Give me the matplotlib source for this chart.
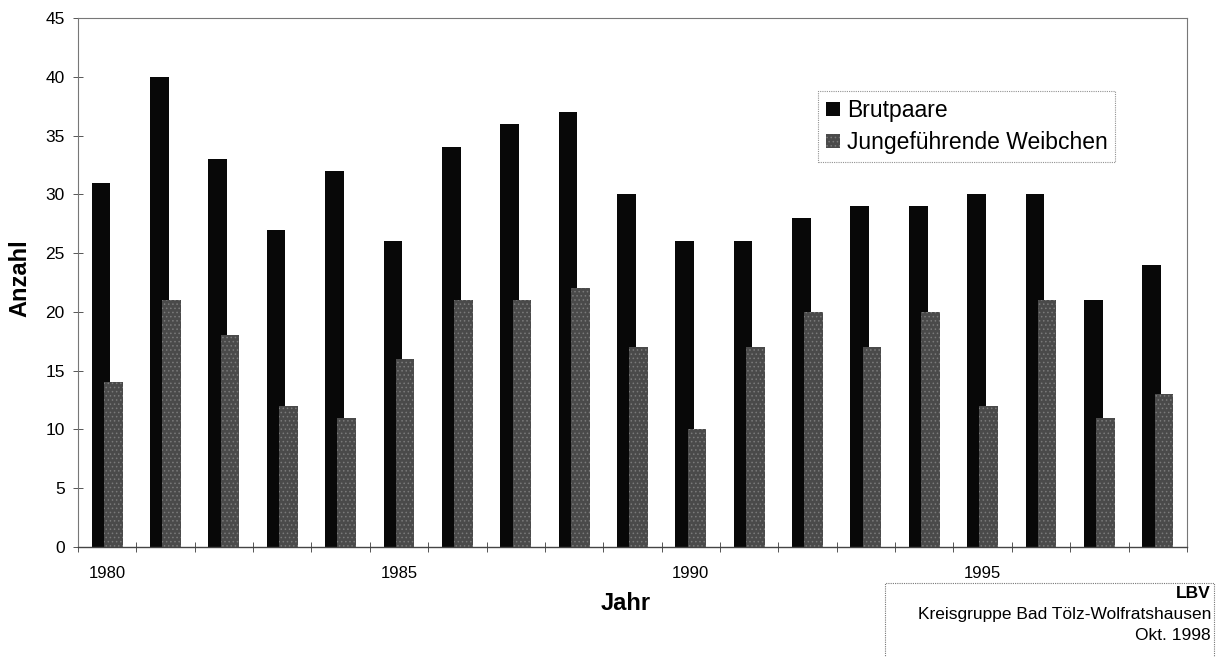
import matplotlib.pyplot as plt
import numpy as np

plt.rcParams['font.family'] = ['Liberation Sans', 'DejaVu Sans']

# Bestandszahlen pro Jahr
jahre = list(range(1980, 1999))
brutpaare = [31, 40, 33, 27, 32, 26, 34, 36, 37, 30, 26, 26, 28, 29, 29, 30, 30, 21, 24]
weibchen = [14, 21, 18, 12, 11, 16, 21, 21, 22, 17, 10, 17, 20, 17, 20, 12, 21, 11, 13]
y_ticks = [0, 5, 10, 15, 20, 25, 30, 35, 40, 45]

fig = plt.figure(figsize=(12.17, 6.57), dpi=100)
ax = fig.add_axes([0.0641, 0.1674, 0.9112, 0.8052])

x = np.arange(len(jahre))
w = 0.32
ax.bar(x - 0.105, brutpaare, w, color='#080808', label='Brutpaare', zorder=2)
plt.rcParams['hatch.color'] = '#7a7a7a'
plt.rcParams['hatch.linewidth'] = 0.6
ax.bar(x + 0.105, weibchen, w, color='#4a4a4a', hatch='....', linewidth=0,
       label='Jungeführende Weibchen', zorder=3)

ax.set_xlim(-0.5, len(jahre) - 0.5)
ax.set_ylim(0, 45)
ax.set_yticks(y_ticks)
ax.tick_params(axis='y', direction='inout', length=7, width=0.7, colors='#555555',
               labelcolor='black', labelsize=12.5, pad=6)

# Tickstriche an den Kategoriegrenzen, Beschriftung nur alle 5 Jahre
ax.set_xticks(np.arange(-0.5, len(jahre), 1.0))
ax.set_xticklabels([])
ax.set_xticks([i for i, j in enumerate(jahre) if j % 5 == 0], minor=True)
ax.set_xticklabels([str(j) for j in jahre if j % 5 == 0], minor=True)
ax.tick_params(axis='x', which='major', direction='inout', length=7, width=0.7, colors='#555555')
ax.tick_params(axis='x', which='minor', length=0, labelsize=12, pad=14)

for s in ['top', 'right', 'left']:
    ax.spines[s].set_linestyle((0, (1, 1)))
    ax.spines[s].set_color('#777777')
    ax.spines[s].set_linewidth(0.8)
ax.spines['bottom'].set_color('#444444')
ax.spines['bottom'].set_linewidth(1.0)

leg = ax.legend(loc='upper left', bbox_to_anchor=(818 / 1217, 1 - 91 / 657),
                bbox_transform=fig.transFigure, borderaxespad=0, fontsize=16.5,
                frameon=True, fancybox=False, handlelength=0.6, handleheight=0.6,
                handletextpad=0.3, labelspacing=0.4, borderpad=0.35)
leg.get_frame().set_edgecolor('#777777')
leg.get_frame().set_linestyle((0, (1, 1)))
leg.get_frame().set_linewidth(0.8)

fig.text(20 / 1217, 1 - 278 / 657, 'Anzahl', rotation=90, ha='center', va='center',
         fontsize=17, fontweight='bold')
fig.text(626 / 1217, 1 - 604 / 657, 'Jahr', ha='center', va='center',
         fontsize=17, fontweight='bold')

# Kasten mit Quellenangabe unten rechts
box = plt.Rectangle((885 / 1217, -0.01), 329 / 1217, (657 - 583) / 657 + 0.01,
                    transform=fig.transFigure, fill=False, edgecolor='#777777',
                    linestyle=(0, (1, 1)), linewidth=0.8)
fig.add_artist(box)
fig.text(1211 / 1217, 1 - 594 / 657, 'LBV', ha='right', va='center', fontsize=12.5,
         fontweight='bold')
fig.text(1211 / 1217, 1 - 615 / 657, 'Kreisgruppe Bad Tölz-Wolfratshausen', ha='right',
         va='center', fontsize=12.5)
fig.text(1211 / 1217, 1 - 635 / 657, 'Okt. 1998', ha='right', va='center', fontsize=12.5)

fig.savefig('out.png', dpi=100)
